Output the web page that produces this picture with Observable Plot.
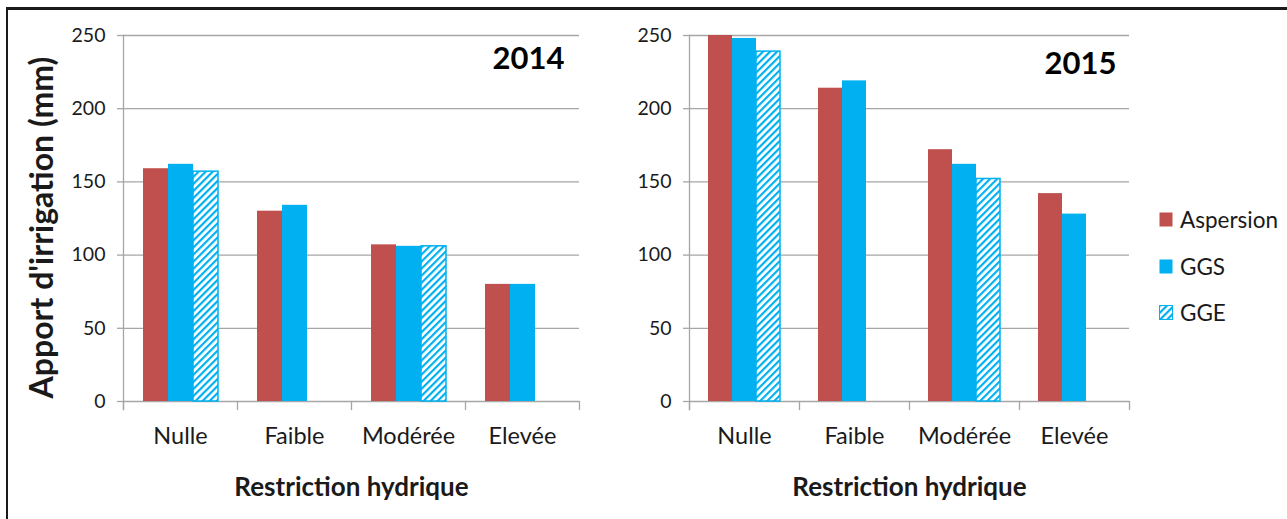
<!DOCTYPE html>
<html><head><meta charset="utf-8">
<script src="https://cdn.jsdelivr.net/npm/d3@7"></script>
<script src="https://cdn.jsdelivr.net/npm/@observablehq/plot@0.6"></script>
<style>
body{margin:0;background:#fff;}
#wrap{position:relative;width:1287px;height:519px;overflow:hidden;font-family:Lato,"Open Sans",sans-serif;color:#1a1a1a;}
#border{position:absolute;left:6px;top:7px;width:1400px;height:700px;border-top:3px solid #1a1a1a;border-left:2px solid #1a1a1a;}
.panel{position:absolute;top:0;}
#p2014{left:0}
#p2015{left:600px}
[aria-label="fx-axis label"]{font-weight:bold;font-size:26px;}
[aria-label="y-axis label"]{font-weight:bold;font-size:32px;translate:0 9px;}
#legend{position:absolute;left:1159px;top:0;}
.item{position:absolute;left:0;display:flex;align-items:center;white-space:nowrap;font-size:22.5px;}
.item svg{margin-right:7px;}
</style></head>
<body>
<svg width="0" height="0" style="position:absolute"><defs>
<pattern id="hatch" patternUnits="userSpaceOnUse" width="5" height="5" patternTransform="rotate(45)">
<rect width="5" height="5" fill="#fff"/><rect width="2.2" height="5" fill="#00b0f0"/>
</pattern></defs></svg>
<div id="wrap">
<div id="border"></div>
<div class="panel" id="p2014"></div>
<div class="panel" id="p2015"></div>
<div id="legend"></div>
</div>
<script>
const categories = ["Nulle", "Faible", "Modérée", "Elevée"];
const series = ["Aspersion", "GGS", "GGE"];
const aspersion2014 = [159, 130, 107, 80];
const ggs2014 = [162, 134, 106, 80];
const gge2014 = [157, null, 106, null];
const aspersion2015 = [250, 214, 172, 142];
const ggs2015 = [248, 219, 162, 128];
const gge2015 = [239, null, 152, null];
const yTicks = [0, 50, 100, 150, 200, 250];

const RED = "#c0504d", BLUE = "#00b0f0", GRID = "#a6a6a6";
const colorRange = [RED, BLUE, "url(#hatch)"];
const FONT = 'Lato,"Open Sans",sans-serif';

function rows(a, g, e) {
  const out = [];
  categories.forEach((c, i) => {
    [[series[0], a[i]], [series[1], g[i]], [series[2], e[i]]].forEach(([s, v]) => {
      if (v != null) out.push({cat: c, series: s, value: v});
    });
  });
  return out;
}

function panel({data, year, width, marginLeft, marginRight, yLabel, yearDx, yearDy}) {
  return Plot.plot({
    width, height: 519, marginLeft, marginRight, marginTop: 35, marginBottom: 118,
    style: {fontFamily: FONT, fontSize: "19px", color: "#1a1a1a", background: "transparent", overflow: "visible"},
    fx: {domain: categories, padding: 0, axis: null},
    x: {domain: series, paddingInner: 0, paddingOuter: 0.76, axis: null},
    y: {domain: [0, 250], axis: null},
    color: {domain: series, range: colorRange},
    marks: [
      Plot.gridY(yTicks, {stroke: GRID, strokeOpacity: 1, strokeWidth: 1.3}),
      Plot.frame({anchor: "left", facetAnchor: "left", stroke: GRID, strokeWidth: 1.3, insetBottom: -8}),
      Plot.frame({anchor: "left", stroke: GRID, strokeWidth: 1.3, insetTop: 366, insetBottom: -8}),
      Plot.frame({anchor: "right", facetAnchor: "right", stroke: GRID, strokeWidth: 1.3, insetTop: 366, insetBottom: -8}),
      Plot.axisY({ticks: yTicks, tickSize: 6, tickPadding: 12, stroke: GRID, strokeWidth: 1.3,
        label: yLabel, labelAnchor: "center", labelArrow: "none", labelOffset: 93, fontSize: 19.5}),
      Plot.barY(data, {fx: "cat", x: "series", y: "value", fill: "series"}),
      Plot.barY(data.filter(d => d.series === "GGE"), {fx: "cat", x: "series", y: "value", fill: "none", stroke: BLUE, strokeWidth: 1.5}),
      Plot.axisFx({anchor: "bottom", tickSize: 0, tickPadding: 26, fontSize: 23.5,
        label: "Restriction hydrique", labelAnchor: "center", labelArrow: "none", labelOffset: 94}),
      Plot.text([{cat: "Elevée", t: year}], {fx: "cat", text: "t", frameAnchor: "top-right", textAnchor: "end", lineAnchor: "top",
        dx: yearDx, dy: yearDy, fontSize: 31, fontWeight: "bold", fill: "#000"})
    ]
  });
}

document.getElementById("p2014").append(panel({
  data: rows(aspersion2014, ggs2014, gge2014), year: "2014", width: 600, marginLeft: 122, marginRight: 20,
  yLabel: "Apport d'irrigation (mm)", yearDx: -15, yearDy: 11
}));
document.getElementById("p2015").append(panel({
  data: rows(aspersion2015, ggs2015, gge2015), year: "2015", width: 540, marginLeft: 88, marginRight: 10,
  yLabel: null, yearDx: -13, yearDy: 16
}));

const legendTops = [219, 266, 312];
const legend = document.getElementById("legend");
series.forEach((s, i) => {
  const item = document.createElement("div");
  item.className = "item";
  item.style.top = (legendTops[i] - 20) + "px";
  item.style.height = "40px";
  item.innerHTML = `<svg width="14" height="15"><rect x="0.5" y="0.5" width="13" height="14" fill="${colorRange[i]}" stroke="${i === 2 ? BLUE : "none"}"/></svg><span>${s}</span>`;
  legend.append(item);
});
</script>
</body></html>
